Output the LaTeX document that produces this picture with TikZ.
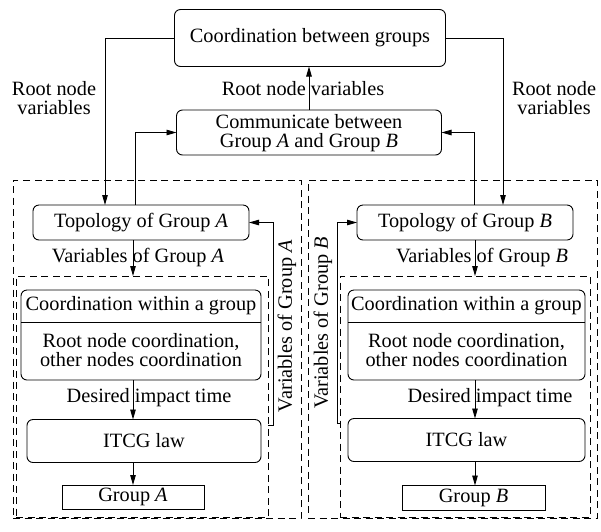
\documentclass[tikz,border=0pt]{standalone}
\usepackage{fontspec}
\setmainfont{Liberation Serif}
\usetikzlibrary{arrows.meta}
\begin{document}
\begin{tikzpicture}[x=1pt,y=-1pt,
  font=\fontsize{20.3}{19.5}\selectfont,
  every node/.style={inner sep=0pt,outer sep=0pt},
  rbox/.style={draw,line width=0.9pt,rounded corners=6pt},
  sbox/.style={draw,line width=0.9pt},
  dbox/.style={draw,line width=0.9pt,dash pattern=on 7pt off 4.5pt},
  txt/.style={align=center},
  link/.style={line width=0.9pt},
  arr/.style={link,-{Triangle[length=10pt,width=5.5pt]}}]
\useasboundingbox (0,0) rectangle (601,531);

% ---- upper level ----
\node[rbox,minimum width=271pt,minimum height=57pt] (top) at (310,38) {};
\node[txt] (topT) at (310,38) {Coordination between groups};
\node[rbox,minimum width=265pt,minimum height=45pt] (comm) at (309,132.5) {};
\node[txt] (commT) at (309,133) {Communicate between\\Group \textit{A} and Group \textit{B}};
\node[txt] (rnM) at (303,89) {Root node variables};
\node[txt] (rnL) at (54,98) {Root node\\variables};
\node[txt] (rnR) at (554,98) {Root node\\variables};

% ---- group A ----
\node[dbox,minimum width=288pt,minimum height=338pt] (outA) at (157,349) {};
\node[rbox,minimum width=216pt,minimum height=35pt] (topoA) at (141,222.5) {Topology of Group \textit{A}};
\node[dbox,minimum width=252pt,minimum height=241pt] (inA) at (142,396.5) {};
\node[rbox,minimum width=240pt,minimum height=90pt] (coA) at (141,335) {};
\draw[link] ([yshift=-32pt]coA.north west) -- ([yshift=-32pt]coA.north east);
\node[txt] (coAh) at (141,306) {Coordination within a group};
\node[txt] (coAb) at (141,350) {Root node coordination,\\other nodes coordination};
\node[rbox,minimum width=234pt,minimum height=43pt] (itA) at (144,441) {ITCG law};
\node[sbox,minimum width=142pt,minimum height=24pt] (grA) at (133,497) {Group \textit{A}};
\node[txt] (varA) at (138,258) {Variables of Group \textit{A}};
\node[txt] (dtA) at (149,398) {Desired impact time};
\node[txt,rotate=90] (fbAT) at (287,326) {Variables of Group \textit{A}};
\coordinate (colA) at (133,0);
\coordinate (fbA) at (273,425);
\coordinate (downA) at (105,0);
\coordinate (upA) at (135,0);

% ---- group B ----
\node[dbox,minimum width=289pt,minimum height=338pt] (outB) at (452.5,349) {};
\node[rbox,minimum width=216pt,minimum height=35pt] (topoB) at (465,222.5) {Topology of Group \textit{B}};
\node[dbox,minimum width=250pt,minimum height=241pt] (inB) at (465,396.5) {};
\node[rbox,minimum width=237pt,minimum height=90pt] (coB) at (466.5,335) {};
\draw[link] ([yshift=-32pt]coB.north west) -- ([yshift=-32pt]coB.north east);
\node[txt] (coBh) at (466.5,306) {Coordination within a group};
\node[txt] (coBb) at (466.5,350) {Root node coordination,\\other nodes coordination};
\node[rbox,minimum width=237pt,minimum height=43pt] (itB) at (466.5,440) {ITCG law};
\node[sbox,minimum width=143pt,minimum height=25pt] (grB) at (473.5,498) {Group \textit{B}};
\node[txt] (varB) at (482,258) {Variables of Group \textit{B}};
\node[txt] (dtB) at (490,398) {Desired impact time};
\node[txt,rotate=90] (fbBT) at (323,323) {Variables of Group \textit{B}};
\coordinate (colB) at (475,0);
\coordinate (fbB) at (337,423);
\coordinate (downB) at (503,0);
\coordinate (upB) at (474,0);

% ---- connectors between levels ----
\draw[arr] (comm.north) -- (comm.north |- top.south);
\draw[arr] (top.west) -| (topoA.north -| downA);
\draw[arr] (top.east) -| (topoB.north -| downB);
\draw[arr] (topoA.north -| upA) |- (comm.west);
\draw[arr] (topoB.north -| upB) |- (comm.east);

% ---- connectors inside group A ----
\draw[arr] (topoA.south -| colA) -- (inA.north -| colA);
\draw[arr] (coA.south -| colA) -- (itA.north -| colA);
\draw[arr] (itA.south -| colA) -- (grA.north -| colA);
\draw[arr] (inA.east |- fbA) -- (fbA) |- (topoA.east);

% ---- connectors inside group B ----
\draw[arr] (topoB.south -| colB) -- (inB.north -| colB);
\draw[arr] (coB.south -| colB) -- (itB.north -| colB);
\draw[arr] (itB.south -| colB) -- (grB.north -| colB);
\draw[arr] (inB.west |- fbB) -- (fbB) |- (topoB.west);
\end{tikzpicture}
\end{document}
